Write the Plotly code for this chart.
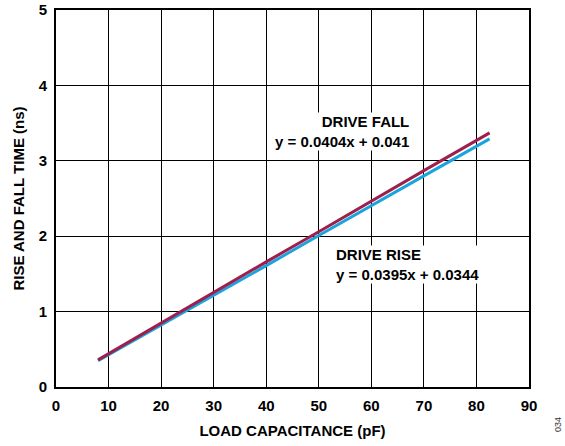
import plotly.graph_objects as go

load_pf = [8, 20, 30, 40, 50, 60, 70, 82.5]
drive_fall = [0.36, 0.85, 1.25, 1.66, 2.06, 2.47, 2.87, 3.37]
drive_rise = [0.35, 0.82, 1.22, 1.61, 2.01, 2.40, 2.80, 3.29]
x_ticks = [0, 10, 20, 30, 40, 50, 60, 70, 80, 90]
y_ticks = [0, 1, 2, 3, 4, 5]
fall_label = ["DRIVE FALL", "y = 0.0404x + 0.041"]
rise_label = ["DRIVE RISE", "y = 0.0395x + 0.0344"]

FONT = "Liberation Sans, Arial, sans-serif"

fig = go.Figure()
fig.add_trace(go.Scatter(x=load_pf, y=drive_rise, mode="lines",
                         line=dict(color="#1AA3DC", width=3), name="DRIVE RISE"))
fig.add_trace(go.Scatter(x=load_pf, y=drive_fall, mode="lines",
                         line=dict(color="#9E1F4C", width=3), name="DRIVE FALL"))

axis_common = dict(showgrid=True, gridcolor="black", gridwidth=1.3,
                   showline=True, linecolor="black", linewidth=2, mirror=True,
                   zeroline=False, ticks="outside", ticklen=4, tickcolor="rgba(0,0,0,0)",
                   automargin=False,
                   tickfont=dict(family=FONT, size=15, color="black"))

fig.update_xaxes(range=[0, 90], tickvals=x_ticks, ticktext=[f"<b>{v}</b>" for v in x_ticks],
                 title=dict(text="<b>LOAD CAPACITANCE (pF)</b>", standoff=12,
                            font=dict(family=FONT, size=15, color="black")),
                 **axis_common)
fig.update_yaxes(range=[0, 5], tickvals=y_ticks, ticktext=[f"<b>{v}</b>" for v in y_ticks],
                 title=dict(text="<b>RISE AND FALL TIME (ns)</b>", standoff=10,
                            font=dict(family=FONT, size=15, color="black")),
                 **axis_common)

label_font = dict(family=FONT, size=15, color="black")
fig.add_annotation(x=67.4, y=3.395, xref="x", yref="y", xanchor="right", yanchor="middle",
                   text="<b>" + "<br>".join(fall_label) + "</b>", align="right",
                   showarrow=False, bgcolor="white", borderpad=0, font=label_font)
fig.add_annotation(x=53.1, y=1.62, xref="x", yref="y", xanchor="left", yanchor="middle",
                   text="<b>" + "<br>".join(rise_label) + "</b>", align="left",
                   showarrow=False, bgcolor="white", borderpad=0, font=label_font)
fig.add_annotation(x=(558-56)/473, y=(387-425)/377, xref="paper", yref="paper", text="034",
                   showarrow=False, xanchor="center", yanchor="middle",
                   textangle=-90, font=dict(family=FONT, size=9, color="#333333"))

fig.update_layout(width=565, height=446, margin=dict(l=56, r=36, t=10, b=59),
                  paper_bgcolor="white", plot_bgcolor="white", showlegend=False)

fig.write_html("out.html", config={"displayModeBar": False},
               post_script="document.body.style.margin='0';document.body.style.overflow='hidden';")
